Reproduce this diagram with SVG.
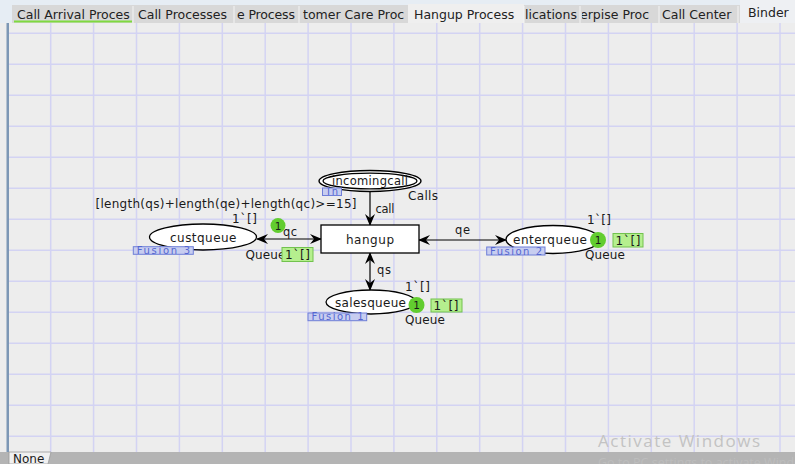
<svg xmlns="http://www.w3.org/2000/svg" width="795" height="464" viewBox="0 0 795 464">
<defs>
<marker id="ah" markerUnits="userSpaceOnUse" markerWidth="12" markerHeight="10" refX="11" refY="5" orient="auto-start-reverse" viewBox="0 0 12 10">
<path d="M0,0 L12,5 L0,10 L4,5 Z" fill="#000"/>
</marker>
<clipPath id="t3"><rect x="235" y="5" width="64" height="18"/></clipPath>
<clipPath id="t7"><rect x="582" y="5" width="77" height="18"/></clipPath>
<clipPath id="tb"><rect x="740" y="0" width="55" height="23"/></clipPath>
</defs>
<style>
text{font-family:"DejaVu Sans",Verdana,sans-serif;font-size:12px;fill:#1a1a1a}
.tab{font-size:12.5px;fill:#222}
.grid{stroke:#d3d3f3;stroke-width:1.5;fill:none}
.arc{stroke:#000;stroke-width:1.2;fill:none;marker-end:url(#ah)}
.dbl{marker-start:url(#ah)}
.place{fill:#fff;stroke:#000;stroke-width:1.3}
.fus{fill:#c7cdf0;stroke:#6f7fd8;stroke-width:1}
.fust{fill:#5466d0;font-size:10px}
.tok{fill:#62cd2f}
.mk{fill:#b5ef8e;stroke:#72c24e;stroke-width:1}
.lbl{font-size:11.5px}
.tn{font-size:10.5px}
</style>
<rect x="0" y="0" width="795" height="464" fill="#ededed"/>
<!-- grid -->
<path class="grid" d="M50.7,23V452M93.6,23V452M136.5,23V452M179.4,23V452M222.3,23V452M265.2,23V452M308.1,23V452M351,23V452M393.9,23V452M436.8,23V452M479.7,23V452M522.6,23V452M565.5,23V452M608.4,23V452M651.3,23V452M694.2,23V452M737.1,23V452M780,23V452M9,33.2H795M9,64.2H795M9,95.2H795M9,126.2H795M9,157.2H795M9,188.2H795M9,219.2H795M9,250.2H795M9,281.2H795M9,312.2H795M9,343.2H795M9,374.2H795M9,405.2H795M9,436.2H795"/>
<rect x="6.5" y="23" width="2.5" height="429" fill="#7d97b5"/>
<!-- tab bar -->
<g id="tabbar">
<rect x="0" y="0" width="795" height="5" fill="#e6edf4"/>
<rect x="0" y="5" width="12" height="18" fill="#e6edf4"/>
<rect x="12" y="5" width="728" height="18" fill="#d8d8d8"/>
<rect x="408" y="4" width="116" height="19" fill="#efefef"/>
<rect x="740" y="0" width="55" height="23" fill="#eef0f3"/>
<path d="M133,6V23M234,6V23M299,6V23M524,6V23M580,6V23M659,6V23M738,6V23" stroke="#f4f4f4" stroke-width="1"/>
<rect x="14" y="20.5" width="118" height="2" fill="#7fd93f"/>
<text class="tab" x="17" y="19">Call Arrival Proces</text>
<text class="tab" x="138" y="19">Call Processes</text>
<text class="tab" x="237" y="19" clip-path="url(#t3)" textLength="58">e Process</text>
<text class="tab" x="303" y="19">tomer Care Proc</text>
<text class="tab" x="414" y="19">Hangup Process</text>
<text class="tab" x="525" y="19">lications</text>
<text class="tab" x="580" y="19" clip-path="url(#t7)">erpise Proc</text>
<text class="tab" x="662" y="19">Call Center</text>
<text class="tab" x="748" y="17" clip-path="url(#tb)">Binder</text>
</g>
<!-- connectors -->
<g id="arcs">
<path class="arc" d="M370,192 L370,225"/>
<path class="arc dbl" d="M257,239 L321,239"/>
<path class="arc dbl" d="M419,240 L506,240"/>
<path class="arc dbl" d="M370,253 L370,290"/>
<text class="lbl" x="375.5" y="213" textLength="19">call</text>
<text class="lbl" x="283" y="235.5" textLength="14">qc</text>
<text class="lbl" x="455" y="233.5" textLength="15">qe</text>
<text class="lbl" x="377" y="274" textLength="14">qs</text>
</g>
<!-- transition -->
<g id="hangup">
<rect x="321" y="225" width="98" height="28" fill="#fff" stroke="#000" stroke-width="1.3"/>
<text x="346" y="243.5" textLength="48">hangup</text>
<text x="95.5" y="207.5" textLength="261">[length(qs)+length(qe)+length(qc)&gt;=15]</text>
</g>
<!-- places -->
<g id="incomingcall">
<ellipse class="place" cx="370" cy="181" rx="51" ry="10.5" stroke-width="1.6"/>
<ellipse class="place" cx="370" cy="181" rx="47" ry="7.8" stroke-width="1.3"/>
<text x="332" y="184.5" textLength="76" style="font-size:11.5px">incomingcall</text>
<rect class="fus" x="322.5" y="188" width="19" height="7.5"/>
<text class="fust" x="327" y="195" textLength="11">In</text>
<text x="408" y="200" textLength="30">Calls</text>
</g>
<g id="custqueue">
<ellipse class="place" cx="203" cy="237" rx="53.5" ry="13"/>
<text x="170" y="241.5" textLength="66.5">custqueue</text>
<rect class="fus" x="133.3" y="246.7" width="60" height="7.6"/>
<text class="fust" x="136.7" y="254" textLength="53.3">Fusion 3</text>
<text x="232" y="223" textLength="25">1`[]</text>
<circle class="tok" cx="278" cy="225.5" r="7.5"/>
<text class="tn" x="278" y="229.5" text-anchor="middle">1</text>
<text x="245.5" y="259" textLength="40">Queue</text>
<rect class="mk" x="282" y="247.5" width="31" height="14"/>
<text x="285" y="259" textLength="25">1`[]</text>
</g>
<g id="enterqueue">
<ellipse class="place" cx="553" cy="239.5" rx="47" ry="14"/>
<text x="513" y="244" textLength="74">enterqueue</text>
<rect class="fus" x="486.7" y="247" width="58.3" height="8"/>
<text class="fust" x="490" y="254.5" textLength="52">Fusion 2</text>
<text x="587" y="224" textLength="24">1`[]</text>
<circle class="tok" cx="598" cy="240" r="8"/>
<text class="tn" x="598" y="244" text-anchor="middle">1</text>
<rect class="mk" x="613" y="233.5" width="30" height="13.5"/>
<text x="615.5" y="245" textLength="25">1`[]</text>
<text x="585" y="259" textLength="40">Queue</text>
</g>
<g id="salesqueue">
<ellipse class="place" cx="371" cy="302" rx="45" ry="12"/>
<text x="335" y="306.5" textLength="71">salesqueue</text>
<rect class="fus" x="308" y="313" width="58.7" height="7.7"/>
<text class="fust" x="311.5" y="320.3" textLength="52">Fusion 1</text>
<text x="405" y="290.5" textLength="25">1`[]</text>
<circle class="tok" cx="416.5" cy="305" r="8"/>
<text class="tn" x="416.5" y="309" text-anchor="middle">1</text>
<rect class="mk" x="431" y="299" width="31" height="13"/>
<text x="433.5" y="310" textLength="25">1`[]</text>
<text x="405" y="324" textLength="40">Queue</text>
</g>
<!-- bottom bar -->
<g id="statusbar">
<rect x="0" y="452" width="795" height="12" fill="#b4b4b4"/>
<path d="M9,452 H51 L48,464 H9 Z" fill="#f0f0f0" stroke="#9a9a9a" stroke-width="0.8"/>
<text x="13" y="462.5" style="font-size:12px">None</text>
<text x="598" y="447" textLength="162" style="font-family:'Open Sans',sans-serif;font-size:17px;fill:#c3c3c3">Activate Windows</text>
<text x="598" y="467" style="font-family:'Open Sans',sans-serif;font-size:12.5px;fill:#bdbdbd">Go to PC settings to activate Windows.</text>
</g>
</svg>
